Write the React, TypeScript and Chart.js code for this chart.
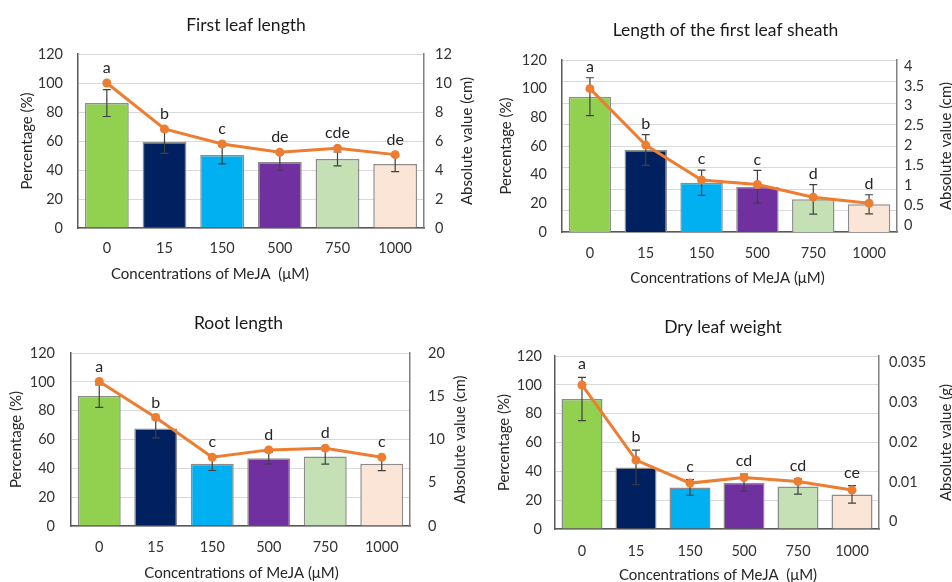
import React, { useEffect, useRef } from 'react';
import { Chart, registerables } from 'chart.js';
Chart.register(...registerables);

const categories = ['0', '15', '150', '500', '750', '1000'];
const barColors = ['#92D050', '#002060', '#00B0F0', '#7030A0', '#C5E0B4', '#FBE5D6'];
const leftTicks = [0, 20, 40, 60, 80, 100, 120];

// First leaf length
const flTitle = 'First leaf length';
const flPercent = [86.2, 59.3, 50.3, 45.5, 47.6, 44.1];
const flError = [9.3, 7.8, 6.1, 5.5, 4.8, 5.2];
const flAbsolute = [10.0, 6.83, 5.79, 5.22, 5.5, 5.06];
const flLetters = ['a', 'b', 'c', 'de', 'cde', 'de'];
const flRightTicks = [0, 2, 4, 6, 8, 10, 12];
const flRightLabels = ['0', '2', '4', '6', '8', '10', '12'];

// Length of the first leaf sheath
const shTitle = 'Length of the first leaf sheath';
const shPercent = [94.4, 57.2, 34.4, 31.6, 22.8, 19.3];
const shError = [13.2, 10.7, 8.8, 11.4, 10.3, 6.7];
const shAbsolute = [3.43, 2.01, 1.13, 1.02, 0.7, 0.55];
const shLetters = ['a', 'b', 'c', 'c', 'd', 'd'];
const shRightTicks = [0, 0.5, 1, 1.5, 2, 2.5, 3, 3.5, 4];
const shRightLabels = ['0', '0.5', '1', '1.5', '2', '2.5', '3', '3.5', '4'];

// Root length
const rlTitle = 'Root length';
const rlPercent = [90.1, 67.6, 43.1, 47.0, 48.2, 43.1];
const rlError = [7.8, 6.5, 4.6, 4.0, 5.3, 4.7];
const rlAbsolute = [16.7, 12.55, 7.95, 8.8, 9.0, 7.95];
const rlLetters = ['a', 'b', 'c', 'd', 'd', 'c'];
const rlRightTicks = [0, 5, 10, 15, 20];
const rlRightLabels = ['0', '5', '10', '15', '20'];

// Dry leaf weight
const dwTitle = 'Dry leaf weight';
const dwPercent = [90.2, 42.7, 28.8, 32.1, 29.5, 24.0];
const dwError = [15.0, 12.0, 5.4, 5.9, 5.3, 6.1];
const dwAbsolute = [0.0301, 0.01355, 0.0085, 0.00973, 0.00886, 0.00696];
const dwLetters = ['a', 'b', 'c', 'cd', 'cd', 'ce'];
const dwRightTicks = [0, 0.00875, 0.0175, 0.02625, 0.035];
const dwRightLabels = ['0', '0.01', '0.02', '0.03', '0.035'];

const FONT = 'Lato, "Open Sans", sans-serif';
const TICK_SIZE = 14.5;
const W = 476;
const H = 291;

type Panel = {
  title: string;
  xTitle: string;
  rightTitle: string;
  percent: number[];
  error: number[];
  absolute: number[];
  letters: string[];
  rightTicks: number[];
  rightLabels: string[];
  rightMin: number;
  rightMax: number;
  gridOnHelper: boolean;
  pos: { x: number; y: number };
  area: { l: number; r: number; t: number; b: number };
  titleY: number;
  titleDx: number;
  xTickY: number;
  xTitleY: number;
  xTitleDx: number;
  leftTitleX: number;
  rightTitleX: number;
  leftPad: number;
  rightPad: number;
  letterGap: number;
};

const panels: Panel[] = [
  {
    title: flTitle, xTitle: 'Concentrations of MeJA  (μM)', rightTitle: 'Absolute value (cm)',
    percent: flPercent, error: flError, absolute: flAbsolute, letters: flLetters,
    rightTicks: flRightTicks, rightLabels: flRightLabels, rightMin: 0, rightMax: 12, gridOnHelper: false,
    pos: { x: 0, y: 0 }, area: { l: 78, r: 424, t: 54, b: 228 },
    titleY: 25, titleDx: -5, xTickY: 248, xTitleY: 274, xTitleDx: -41,
    leftTitleX: 27, rightTitleX: 467, leftPad: 15, rightPad: 11, letterGap: 15,
  },
  {
    title: shTitle, xTitle: 'Concentrations of MeJA (μM)', rightTitle: 'Absolute value (cm)',
    percent: shPercent, error: shError, absolute: shAbsolute, letters: shLetters,
    rightTicks: shRightTicks, rightLabels: shRightLabels, rightMin: -0.176, rightMax: 4.151, gridOnHelper: true,
    pos: { x: 476, y: 0 }, area: { l: 86, r: 421, t: 60, b: 232 },
    titleY: 30, titleDx: -4, xTickY: 253, xTitleY: 278, xTitleDx: -2,
    leftTitleX: 30, rightTitleX: 470, leftPad: 15, rightPad: 7, letterGap: 11,
  },
  {
    title: rlTitle, xTitle: 'Concentrations of MeJA (μM)', rightTitle: 'Absolute value (cm)',
    percent: rlPercent, error: rlError, absolute: rlAbsolute, letters: rlLetters,
    rightTicks: rlRightTicks, rightLabels: rlRightLabels, rightMin: 0, rightMax: 20, gridOnHelper: false,
    pos: { x: 0, y: 291 }, area: { l: 71, r: 410, t: 62, b: 235 },
    titleY: 32, titleDx: -2, xTickY: 256, xTitleY: 282, xTitleDx: 1,
    leftTitleX: 16, rightTitleX: 460, leftPad: 16, rightPad: 18, letterGap: 15,
  },
  {
    title: dwTitle, xTitle: 'Concentrations of MeJA  (μM)', rightTitle: 'Absolute value (g)',
    percent: dwPercent, error: dwError, absolute: dwAbsolute, letters: dwLetters,
    rightTicks: dwRightTicks, rightLabels: dwRightLabels, rightMin: -0.0016, rightMax: 0.03647, gridOnHelper: false,
    pos: { x: 476, y: 291 }, area: { l: 79, r: 403, t: 65, b: 238 },
    titleY: 36, titleDx: 6, xTickY: 260, xTitleY: 284, xTitleDx: 1,
    leftTitleX: 28, rightTitleX: 470, leftPad: 13, rightPad: 10, letterGap: 13,
  },
];

function makeDecor(p: Panel) {
  return {
    id: 'decor',
    afterDatasetDraw(chart: any, args: any) {
      if (args.index !== 1) return;
      const ctx = chart.ctx;
      const meta = chart.getDatasetMeta(1);
      const y = chart.scales.y;
      ctx.save();
      ctx.strokeStyle = '#404040';
      ctx.lineWidth = 1.2;
      meta.data.forEach((bar: any, i: number) => {
        const top = y.getPixelForValue(p.percent[i] + p.error[i]);
        const bot = y.getPixelForValue(p.percent[i] - p.error[i]);
        const x = bar.x;
        ctx.beginPath();
        ctx.moveTo(x, top);
        ctx.lineTo(x, bot);
        ctx.moveTo(x - 4, top);
        ctx.lineTo(x + 4, top);
        ctx.moveTo(x - 4, bot);
        ctx.lineTo(x + 4, bot);
        ctx.stroke();
      });
      ctx.restore();
    },
    afterDraw(chart: any) {
      const ctx = chart.ctx;
      const { left, right, top, bottom } = chart.chartArea;
      const y = chart.scales.y;
      const y1 = chart.scales.y1;
      const meta = chart.getDatasetMeta(1);
      ctx.save();
      // letters
      ctx.fillStyle = '#262626';
      ctx.font = `16px ${FONT}`;
      ctx.textAlign = 'center';
      ctx.textBaseline = 'middle';
      meta.data.forEach((bar: any, i: number) => {
        const ly = y1.getPixelForValue(p.absolute[i]);
        const ey = y.getPixelForValue(p.percent[i] + p.error[i]);
        ctx.fillText(p.letters[i], bar.x, Math.min(ly, ey) - p.letterGap);
      });
      // title
      ctx.fillStyle = '#1a1a1a';
      ctx.font = `17.5px ${FONT}`;
      ctx.fillText(p.title, (left + right) / 2 + p.titleDx, p.titleY);
      // x title
      ctx.fillStyle = '#262626';
      ctx.font = `15px ${FONT}`;
      ctx.fillText(p.xTitle, (left + right) / 2 + p.xTitleDx, p.xTitleY);
      // y titles
      const cy = (top + bottom) / 2;
      ctx.save();
      ctx.translate(p.leftTitleX, cy);
      ctx.rotate(-Math.PI / 2);
      ctx.fillText('Percentage (%)', 0, 0);
      ctx.restore();
      ctx.save();
      ctx.translate(p.rightTitleX, cy);
      ctx.rotate(-Math.PI / 2);
      ctx.fillText(p.rightTitle, 0, 0);
      ctx.restore();
      ctx.restore();
    },
  };
}

function PanelChart({ p }: { p: Panel }) {
  const ref = useRef<HTMLCanvasElement | null>(null);
  useEffect(() => {
    if (!ref.current) return;
    const tickFont = { family: FONT, size: TICK_SIZE };
    const scales: any = {
      x: {
        type: 'category',
        offset: true,
        grid: { display: false, drawTicks: false },
        border: { display: true, color: '#595959', width: 1.5 },
        ticks: { padding: p.xTickY - p.area.b - TICK_SIZE * 0.6, font: tickFont, color: '#333333', maxRotation: 0 },
        afterFit: (s: any) => { s.height = H - p.area.b; },
      },
      y: {
        position: 'left',
        min: 0,
        max: 120,
        afterBuildTicks: (s: any) => { s.ticks = leftTicks.map((v) => ({ value: v })); },
        ticks: { padding: p.leftPad, font: tickFont, color: '#333333', autoSkip: false },
        grid: { display: !p.gridOnHelper, color: '#D9D9D9', lineWidth: 1, drawTicks: false },
        border: { display: true, color: '#595959', width: 1.5 },
        afterFit: (s: any) => { s.width = p.area.l; },
      },
      y1: {
        position: 'right',
        min: p.rightMin,
        max: p.rightMax,
        afterBuildTicks: (s: any) => { s.ticks = p.rightTicks.map((v) => ({ value: v })); },
        ticks: {
          padding: p.rightPad, font: tickFont, color: '#333333', autoSkip: false,
          callback: (_v: any, i: number) => p.rightLabels[i],
        },
        grid: { display: false, drawTicks: false },
        border: { display: true, color: '#808080', width: 1.5 },
        afterFit: (s: any) => { s.width = W - p.area.r; },
      },
    };
    if (p.gridOnHelper) {
      scales.yg = {
        position: 'right',
        min: 0,
        max: 8,
        ticks: { display: false, stepSize: 1 },
        grid: { display: true, color: '#D9D9D9', lineWidth: 1, drawTicks: false },
        border: { display: false },
        afterFit: (s: any) => { s.width = 0; },
      };
    }
    const chart = new Chart(ref.current, {
      type: 'bar',
      data: {
        labels: categories,
        datasets: [
          {
            type: 'line',
            data: p.absolute,
            yAxisID: 'y1',
            borderColor: '#ED7D31',
            backgroundColor: '#ED7D31',
            borderWidth: 3,
            pointRadius: 4.5,
            pointBackgroundColor: '#ED7D31',
            pointBorderWidth: 0,
            tension: 0,
            order: 0,
          } as any,
          {
            type: 'bar',
            data: p.percent,
            yAxisID: 'y',
            backgroundColor: barColors,
            borderColor: '#8C8C8C',
            borderWidth: 1.5,
            barPercentage: 1,
            categoryPercentage: 0.76,
            order: 1,
          } as any,
        ],
      },
      options: {
        responsive: false,
        animation: false,
        layout: { padding: { top: p.area.t, left: 0, right: 0, bottom: 0 } },
        plugins: { legend: { display: false }, tooltip: { enabled: false }, title: { display: false } },
        scales,
      } as any,
      plugins: [makeDecor(p)],
    });
    return () => chart.destroy();
  }, [p]);
  return (
    <canvas
      ref={ref}
      width={W}
      height={H}
      style={{ position: 'absolute', left: p.pos.x, top: p.pos.y, width: W, height: H, display: 'block' }}
    />
  );
}

export default function App() {
  return (
    <div style={{ position: 'absolute', left: 0, top: 0, width: 952, height: 582, background: '#ffffff', overflow: 'hidden' }}>
      {panels.map((p, i) => (
        <PanelChart key={i} p={p} />
      ))}
    </div>
  );
}
